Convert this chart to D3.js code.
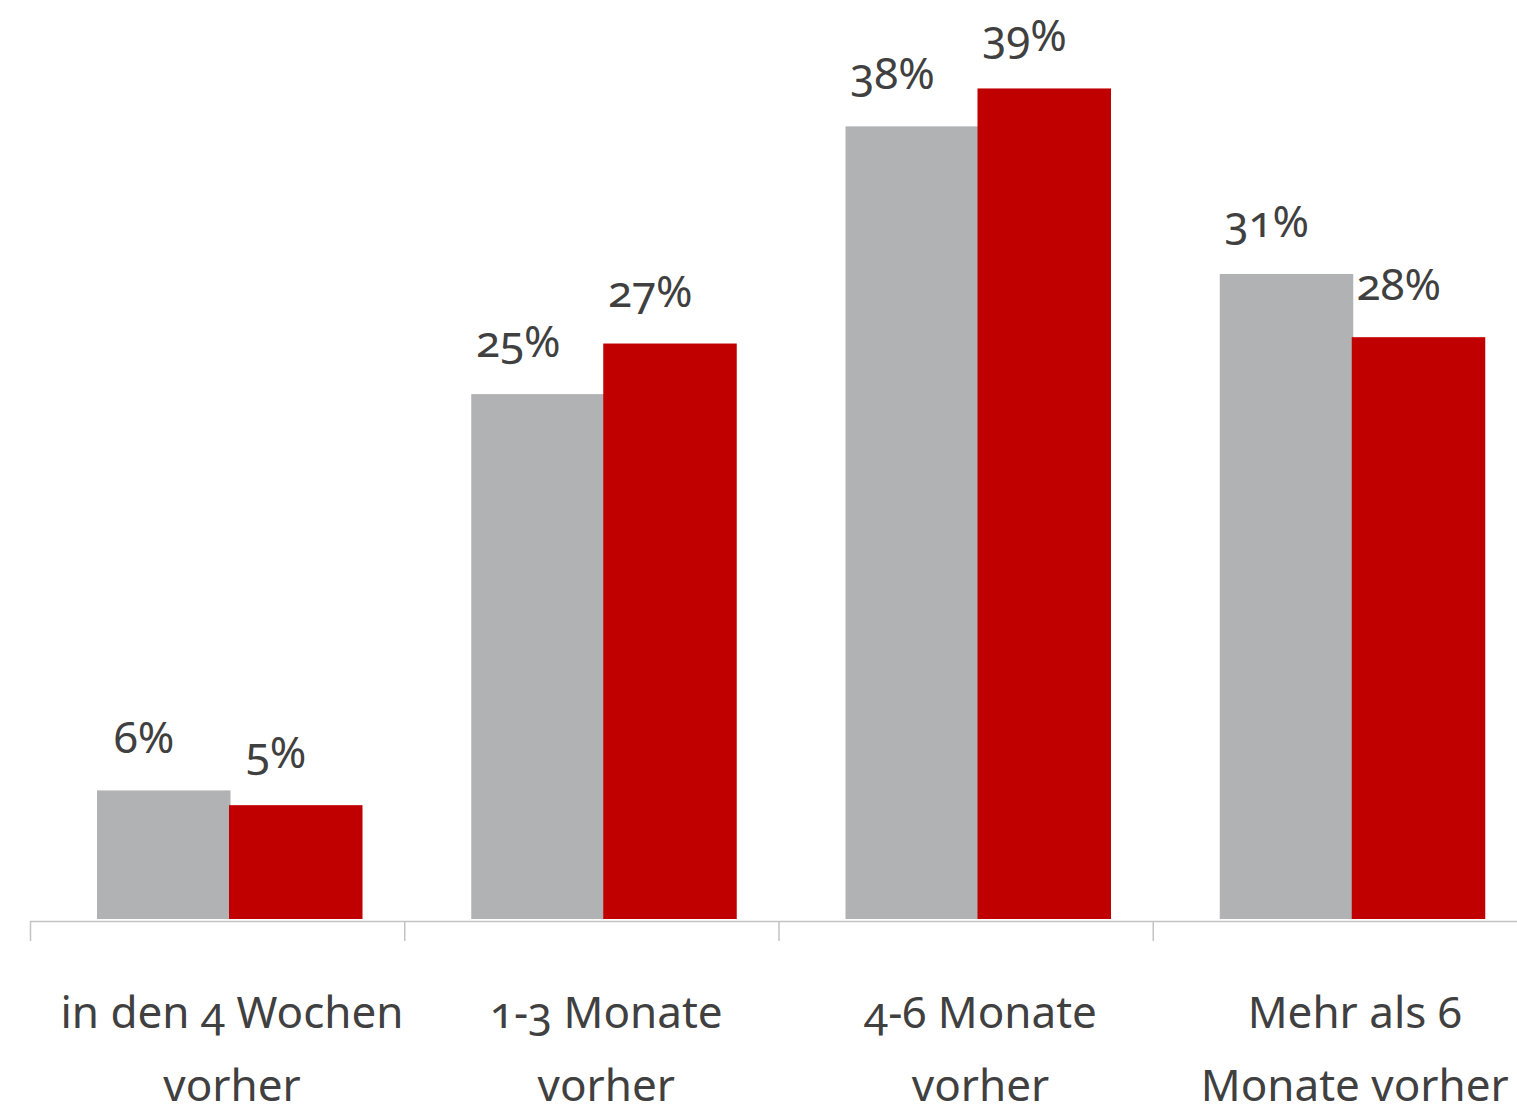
<!DOCTYPE html>
<html>
<head>
<meta charset="utf-8">
<script src="https://cdn.jsdelivr.net/npm/d3@7"></script>
<style>
  body { margin: 0; background: #fff; }
  text { font-family: "Noto Sans", "Open Sans", sans-serif; font-variant-numeric: oldstyle-nums; fill: #404040; }
  .axis path, .axis line { stroke: #c3c3c3; stroke-width: 1.5; }
</style>
</head>
<body>
<div id="barChart"></div>
<script>
// data
var categories = ["in den 4 Wochen vorher", "1-3 Monate vorher", "4-6 Monate vorher", "Mehr als 6 Monate vorher"];
var categoryLines = [["in den 4 Wochen", "vorher"], ["1-3 Monate", "vorher"], ["4-6 Monate", "vorher"], ["Mehr als 6", "Monate vorher"]];
var seriesNames = ["grau", "rot"];
var grayValues = [6.1, 24.9, 37.6, 30.6];
var redValues = [5.4, 27.3, 39.4, 27.6];

var width = 1517;
var height = 1116;
var baseline = 919;

var colors = {grau: "#b1b2b4", rot: "#c00000"};

var svg = d3.select("#barChart")
  .append("svg")
  .attr("width", width)
  .attr("height", height);

var x0 = d3.scaleBand().domain(categories).range([30, 1527]).padding(0);
var x1 = d3.scaleBand().domain(seriesNames).range([67, 331]).padding(0);
var yScale = d3.scaleLinear().domain([0, 40]).range([baseline, baseline - 843.2]);

var rows = categories.map(function(c, i) {
  return {cat: c, lines: categoryLines[i], values: [
    {series: "grau", v: grayValues[i]},
    {series: "rot", v: redValues[i]}
  ]};
});

// axis line with ticks at the band boundaries
var edge = d3.scaleLinear().domain([0, 4]).range(x0.range());
svg.append("g")
  .attr("class", "axis")
  .attr("transform", "translate(0," + 921 + ")")
  .call(d3.axisBottom(edge).tickValues([0, 1, 2, 3, 4]).tickFormat("").tickSize(20).tickSizeOuter(0));

var groups = svg.selectAll(".group")
  .data(rows)
  .enter().append("g")
  .attr("class", "group")
  .attr("transform", function(d) { return "translate(" + x0(d.cat) + ",0)"; });

groups.selectAll("rect")
  .data(function(d) { return d.values; })
  .enter().append("rect")
  .attr("x", function(d) { return x1(d.series); })
  .attr("y", function(d) { return yScale(d.v); })
  .attr("width", x1.bandwidth() + 1.5)
  .attr("height", function(d) { return baseline - yScale(d.v); })
  .style("fill", function(d) { return colors[d.series]; });

groups.selectAll(".val")
  .data(function(d) { return d.values; })
  .enter().append("text")
  .attr("class", "val")
  .attr("x", function(d) { return x1(d.series) + x1.bandwidth() / 2 - 19; })
  .attr("y", function(d) { return yScale(d.v) - 37; })
  .attr("text-anchor", "middle")
  .style("font-size", "44px")
  .text(function(d) { return Math.round(d.v) + "%"; });

// category labels under the axis
var mid = (x1.range()[0] + x1.range()[1]) / 2;
groups.each(function(d) {
  var t = d3.select(this).append("text")
    .attr("text-anchor", "middle")
    .style("font-size", "44px");
  t.selectAll("tspan")
    .data(d.lines)
    .enter().append("tspan")
    .attr("x", mid + 3)
    .attr("y", function(l, i) { return 1028 + i * 73; })
    .text(function(l) { return l; });
});
</script>
</body>
</html>
